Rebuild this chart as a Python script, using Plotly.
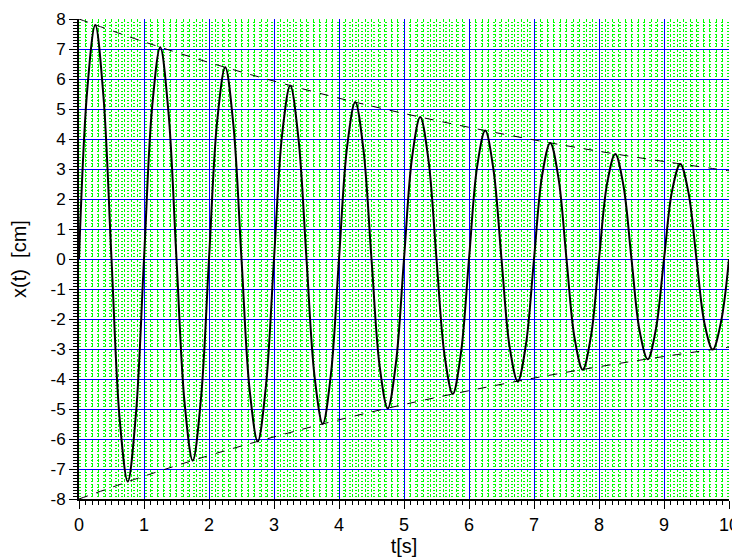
import plotly.graph_objects as go

# Oscillation samples (t in s, x in cm)
t_vals = [0, 0.125, 0.25, 0.375, 0.5, 0.625, 0.75, 0.875,
          1, 1.125, 1.25, 1.375, 1.5, 1.625, 1.75, 1.875,
          2, 2.125, 2.25, 2.375, 2.5, 2.625, 2.75, 2.875,
          3, 3.125, 3.25, 3.375, 3.5, 3.625, 3.75, 3.875,
          4, 4.125, 4.25, 4.375, 4.5, 4.625, 4.75, 4.875,
          5, 5.125, 5.25, 5.375, 5.5, 5.625, 5.75, 5.875,
          6, 6.125, 6.25, 6.375, 6.5, 6.625, 6.75, 6.875,
          7, 7.125, 7.25, 7.375, 7.5, 7.625, 7.75, 7.875,
          8, 8.125, 8.25, 8.375, 8.5, 8.625, 8.75, 8.875,
          9, 9.125, 9.25, 9.375, 9.5, 9.625, 9.75, 9.875, 10]
x_vals = [0, 5.59, 7.80, 5.45, 0, -5.32, -7.42, -5.19,
          0, 5.06, 7.06, 4.93, 0, -4.81, -6.72, -4.69,
          0, 4.58, 6.39, 4.47, 0, -4.36, -6.08, -4.25,
          0, 4.15, 5.78, 4.04, 0, -3.94, -5.50, -3.85,
          0, 3.75, 5.23, 3.66, 0, -3.57, -4.98, -3.48,
          0, 3.40, 4.73, 3.32, 0, -3.23, -4.50, -3.15,
          0, 3.08, 4.28, 3.00, 0, -2.93, -4.08, -2.86,
          0, 2.79, 3.87, 2.72, 0, -2.65, -3.69, -2.59,
          0, 2.52, 3.50, 2.46, 0, -2.40, -3.34, -2.34,
          0, 2.28, 3.17, 2.23, 0, -2.17, -3.02, -2.12, 0]

# Envelope
env_t = [0, 1, 2, 3, 4, 5, 6, 7, 8, 9, 10]
env_upper = [8.0, 7.24, 6.55, 5.93, 5.36, 4.85, 4.39, 3.97, 3.59, 3.25, 2.94]
env_lower = [-8.0, -7.24, -6.55, -5.93, -5.36, -4.85, -4.39, -3.97, -3.59, -3.25, -2.94]

# Axis tick positions
x_major = list(range(0, 11))
y_major = list(range(-8, 9))
x_minor = [i / 10 for i in range(0, 101) if i % 10 != 0]
y_minor = [i / 10 for i in range(-80, 81) if i % 10 != 0]

fig = go.Figure()
fig.add_trace(go.Scatter(x=env_t, y=env_upper, mode="lines",
                         line=dict(color="black", width=1, dash="dash", shape="spline"),
                         hoverinfo="skip", cliponaxis=False))
fig.add_trace(go.Scatter(x=env_t, y=env_lower, mode="lines",
                         line=dict(color="black", width=1, dash="dash", shape="spline"),
                         hoverinfo="skip", cliponaxis=False))
fig.add_trace(go.Scatter(x=t_vals, y=x_vals, mode="lines",
                         line=dict(color="black", width=2, shape="spline", smoothing=1.0)))

font = "Liberation Sans, Arial, sans-serif"

fig.update_layout(
    width=732, height=551,
    margin=dict(l=71, r=11, t=11, b=60, autoexpand=False),
    paper_bgcolor="white", plot_bgcolor="white",
    showlegend=False,
    font=dict(family=font, color="black"),
    xaxis=dict(range=[0, 10], tickmode="array", tickvals=x_major,
               ticktext=[str(v) for v in x_major],
               automargin=False,
               showgrid=True, gridcolor="#0000ff", gridwidth=1, zeroline=False,
               showline=True, linecolor="black", linewidth=2,
               ticks="outside", ticklen=8, tickwidth=1, tickcolor="black",
               tickfont=dict(size=18, family=font),
               title=dict(text="t[s]", font=dict(size=20, family=font), standoff=2),
               minor=dict(tickmode="array", tickvals=x_minor, showgrid=True,
                          gridcolor="#00ff00", griddash="3px,2px", gridwidth=1,
                          ticks="outside", ticklen=4, tickcolor="black", tickwidth=1)),
    yaxis=dict(range=[-8, 8], tickmode="array", tickvals=y_major,
               ticktext=[str(v) for v in y_major],
               automargin=False,
               showgrid=True, gridcolor="#0000ff", gridwidth=1, zeroline=False,
               showline=True, linecolor="black", linewidth=2,
               ticks="outside", ticklen=8, tickwidth=1, tickcolor="black",
               tickfont=dict(size=17, family=font),
               title=dict(text="x(t)  [cm]", font=dict(size=20, family=font), standoff=21),
               minor=dict(tickmode="array", tickvals=y_minor, showgrid=True,
                          gridcolor="#00ff00", griddash="2px,4px", gridwidth=1,
                          ticks="outside", ticklen=4, tickcolor="black", tickwidth=1)),
)

fig.write_html("out.html")
